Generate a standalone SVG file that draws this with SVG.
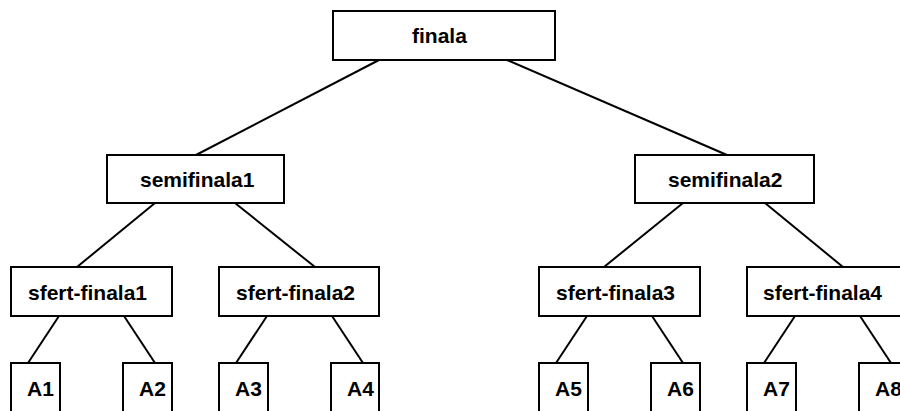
<svg xmlns="http://www.w3.org/2000/svg" width="900" height="411" viewBox="0 0 900 411">
<style>
rect{fill:#fff;stroke:#000;stroke-width:2}
line{stroke:#000;stroke-width:2}
text{font-family:"Liberation Sans",Arial,sans-serif;font-weight:bold;font-size:21px;fill:#000}
</style>
<rect x="0" y="0" width="900" height="411" style="stroke:none"/>
<g id="connectors">
<line x1="379" y1="60" x2="196" y2="155"/>
<line x1="507" y1="60" x2="727" y2="155"/>
<line x1="155" y1="203" x2="77" y2="267"/>
<line x1="235" y1="203" x2="315" y2="267"/>
<line x1="683" y1="203" x2="604" y2="267"/>
<line x1="765" y1="203" x2="843" y2="267"/>
<line x1="59" y1="316" x2="28" y2="363"/>
<line x1="124" y1="316" x2="155" y2="363"/>
<line x1="267" y1="316" x2="236" y2="363"/>
<line x1="332" y1="316" x2="363" y2="363"/>
<line x1="587" y1="316" x2="556" y2="363"/>
<line x1="652" y1="316" x2="683" y2="363"/>
<line x1="795" y1="316" x2="764" y2="363"/>
<line x1="860" y1="316" x2="891" y2="363"/>
</g>
<g id="finala"><rect x="333" y="11" width="222" height="49"/><text x="412" y="43">finala</text></g>
<g id="semifinala1"><rect x="107" y="155" width="177" height="48"/><text x="140" y="187">semifinala1</text></g>
<g id="semifinala2"><rect x="635" y="155" width="179" height="48"/><text x="668" y="187">semifinala2</text></g>
<g id="sfert-finala1"><rect x="11" y="267" width="161" height="49"/><text x="28" y="300">sfert-finala1</text></g>
<g id="sfert-finala2"><rect x="219" y="267" width="160" height="49"/><text x="236" y="300">sfert-finala2</text></g>
<g id="sfert-finala3"><rect x="539" y="267" width="161" height="49"/><text x="556" y="300">sfert-finala3</text></g>
<g id="sfert-finala4"><rect x="747" y="267" width="161" height="49"/><text x="763" y="300">sfert-finala4</text></g>
<g id="A1"><rect x="11" y="363" width="49" height="60"/><text x="27" y="396">A1</text></g>
<g id="A2"><rect x="123" y="363" width="49" height="60"/><text x="139" y="396">A2</text></g>
<g id="A3"><rect x="219" y="363" width="49" height="60"/><text x="235" y="396">A3</text></g>
<g id="A4"><rect x="331" y="363" width="48" height="60"/><text x="347" y="396">A4</text></g>
<g id="A5"><rect x="539" y="363" width="49" height="60"/><text x="555" y="396">A5</text></g>
<g id="A6"><rect x="651" y="363" width="49" height="60"/><text x="667" y="396">A6</text></g>
<g id="A7"><rect x="747" y="363" width="49" height="60"/><text x="763" y="396">A7</text></g>
<g id="A8"><rect x="859" y="363" width="49" height="60"/><text x="875" y="396">A8</text></g>
</svg>
